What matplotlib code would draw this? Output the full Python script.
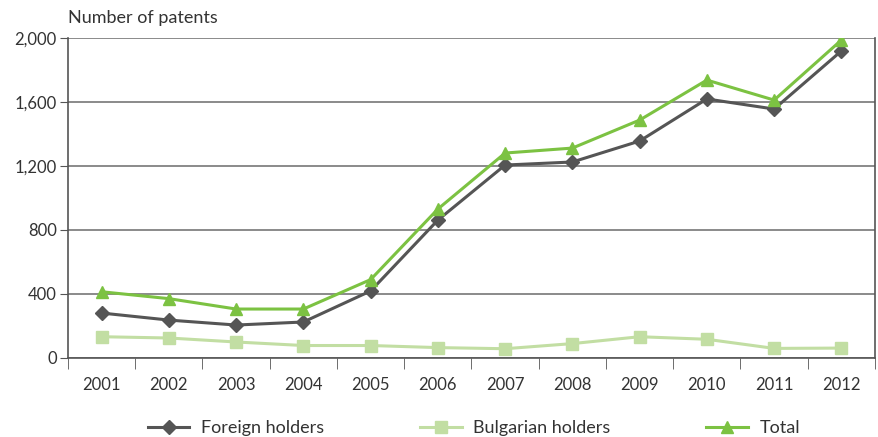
import numpy as np
import matplotlib.pyplot as plt
from matplotlib.ticker import FuncFormatter

plt.rcParams['font.family'] = ['Lato', 'DejaVu Sans']

years = ["2001", "2002", "2003", "2004", "2005", "2006",
         "2007", "2008", "2009", "2010", "2011", "2012"]
foreign = [281, 237, 206, 225, 419, 862, 1206, 1225, 1356, 1619, 1556, 1919]
bulgarian = [133, 125, 100, 78, 78, 65, 58, 90, 133, 117, 60, 62]
total = [414, 371, 306, 306, 490, 931, 1281, 1312, 1487, 1737, 1612, 1987]

fig = plt.figure(figsize=(8.79, 4.37), dpi=100)
ax = fig.add_axes([68/879, 1 - 358/437, 807/879, 320/437])

x = np.arange(len(years))
ax.plot(x, foreign, color="#555555", lw=2.2, marker="D", ms=7, label="Foreign holders")
ax.plot(x, bulgarian, color="#c2dea3", lw=2.2, marker="s", ms=8, label="Bulgarian holders")
ax.plot(x, total, color="#7cc242", lw=2.2, marker="^", ms=9, label="Total")

ax.set_xlim(-0.5, len(years) - 0.5)
ax.set_ylim(0, 2000)
ax.set_yticks([0, 400, 800, 1200, 1600, 2000])
ax.yaxis.set_major_formatter(FuncFormatter(lambda v, p: "{:,.0f}".format(v)))
ax.set_xticks(x)
ax.set_xticklabels(years)
ax.set_xticks(np.arange(-0.5, len(years)), minor=True)
ax.tick_params(axis="x", which="major", length=0, pad=14, labelsize=12, colors="#333333")
ax.tick_params(axis="x", which="minor", length=8, color="#555555", direction="out")
ax.tick_params(axis="y", length=6, color="#555555", labelsize=12, labelcolor="#333333", pad=2)
ax.grid(axis="y", color="#777777", lw=1.2)
ax.set_axisbelow(True)
for s in ["left", "right", "bottom"]:
    ax.spines[s].set_color("#555555")
    ax.spines[s].set_linewidth(1.2)
ax.spines["top"].set_visible(False)

fig.text(68/879, 1 - 18/437, "Number of patents", fontsize=13, color="#333333", va="center")

fig.legend(loc="center", bbox_to_anchor=(474/879, 1 - 428/437), ncol=3, frameon=False,
           fontsize=13, handlelength=2.3, handletextpad=0.65, columnspacing=5.3,
           labelcolor="#333333")

fig.savefig("out.png", dpi=100, facecolor="white")
